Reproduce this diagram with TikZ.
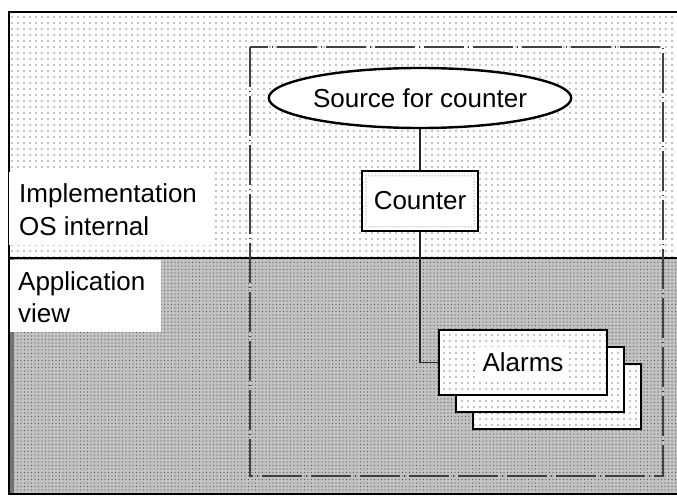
\documentclass[tikz,border=0pt]{standalone}
\usepackage{fontspec}
\setmainfont{Liberation Sans}
\usetikzlibrary{shapes.geometric,patterns.meta}
\begin{document}
\begin{tikzpicture}[x=1pt,y=-1pt,
  every node/.style={font=\fontsize{26pt}{32pt}\selectfont, inner sep=0pt},
  lightdots/.style={pattern={Dots[distance=6pt,radius=0.7pt]}, pattern color=black},
  densedots/.style={pattern={Dots[distance=3.5pt,radius=0.55pt]}, pattern color=black!65},
  labelbox/.style={fill=white, draw=none, anchor=north west},
  boxline/.style={draw=black, line width=2.4pt},
  alarmbox/.style={boxline, fill=white, minimum width=168pt, minimum height=65pt},
  wire/.style={draw=black!85, line width=1.2pt},
  zone/.style={draw=black!75, line width=1.6pt, dash pattern=on 40pt off 4pt on 1pt off 4pt}
]
\useasboundingbox (0,0) rectangle (677,497);
% background regions
\fill[white] (0,0) rectangle (677,497);
\fill[white] (9,12) rectangle (677,258);
\fill[lightdots] (9,12) rectangle (677,258);
\fill[black!24] (9,258) rectangle (677,494);
\fill[densedots] (9,258) rectangle (677,494);
\fill[black!55] (9,258) rectangle (14,494);
% frame
\draw[black, line width=2.2pt] (677,12) -- (9,12) -- (9,494) -- (677,494);
\draw[black, line width=2.8pt] (9,258) -- (677,258);
% dashed zone
\draw[zone] (250,47) rectangle (663,476);
% label boxes
\node[labelbox, minimum width=206pt, minimum height=73pt] (implbox) at (9,172) {};
\node[anchor=base west] (impl1) at (19,203) {Implementation};
\node[anchor=base west] (impl2) at (19,235) {OS internal};
\node[labelbox, minimum width=151pt, minimum height=72pt] (appbox) at (10,259.5) {};
\node[anchor=base west] (app1) at (18,290) {Application};
\node[anchor=base west] (app2) at (18,322) {view};
% source ellipse
\node[ellipse, boxline, fill=white, minimum width=260pt, minimum height=60pt] (src) at (420,98) {Source for counter};
% counter
\node[rectangle, boxline, fill=white, minimum width=116pt, minimum height=60pt] (ctr) at (420,201) {};
\fill[pattern={Dots[distance=3pt,radius=0.5pt]}, pattern color=black!70, even odd rule]
  ([shift={(3,3)}]ctr.north west) rectangle ([shift={(-3,-3)}]ctr.south east)
  ([shift={(7,7)}]ctr.north west) rectangle ([shift={(-7,-7)}]ctr.south east);
\node (ctrtext) at (ctr.center) {Counter};
% alarms stack
\node[alarmbox] (al3) at (557,396.5) {};
\fill[lightdots] (al3.north west) rectangle (al3.south east);
\node[alarmbox] (al2) at (540,379.5) {};
\fill[lightdots] (al2.north west) rectangle (al2.south east);
\node[alarmbox] (al1) at (523,362.5) {};
\fill[lightdots] (al1.north west) rectangle (al1.south east);
\node[fill=white, inner xsep=4pt, inner ysep=6pt] (altext) at (al1.center) {Alarms};
% connectors
\draw[wire] (src.south) -- (ctr.north);
\draw[wire] (ctr.south) |- (al1.west);
\end{tikzpicture}
\end{document}
